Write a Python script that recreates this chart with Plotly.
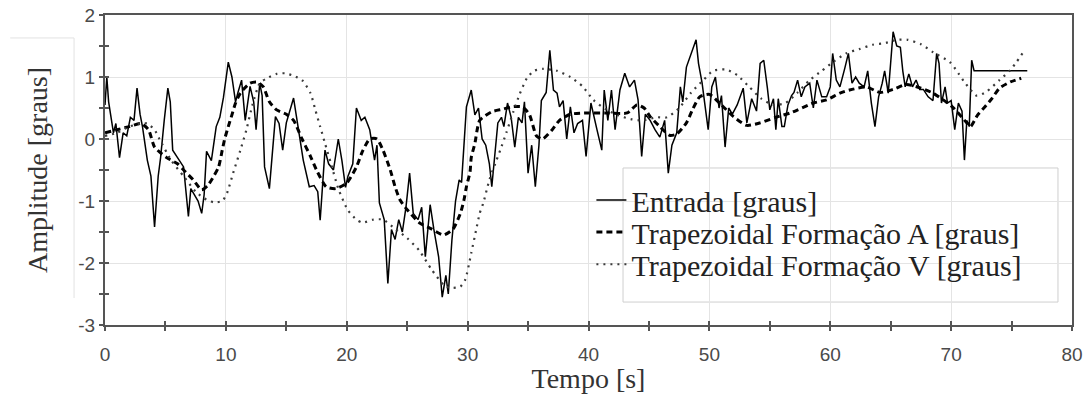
import plotly.graph_objects as go

# ---------------- data ----------------
entrada_t = [0.0, 0.15, 0.3, 0.5, 0.7, 0.9, 1.2, 1.5, 1.8, 2.1, 2.4, 2.65, 2.9, 3.1, 3.5, 3.8, 4.1, 4.4, 4.6, 4.9,
             5.2, 5.4, 5.6, 6.0, 6.5, 6.9, 7.1, 7.4, 7.7, 8.0, 8.2, 8.4, 8.8, 9.2, 9.5, 9.8, 10.2, 10.5, 10.8, 11.0,
             11.3, 11.6, 12.0, 12.3, 12.5, 12.8, 13.0, 13.2, 13.6, 14.1, 14.4, 14.7, 15.0, 15.6, 15.9, 16.4, 16.9,
             17.3, 17.6, 17.8, 18.2, 18.5, 18.9, 19.3, 19.6, 19.9, 20.1, 20.5, 20.8, 21.2, 21.5, 21.9, 22.3, 22.5,
             22.7, 23.1, 23.4, 23.7, 24.0, 24.3, 24.6, 24.9, 25.2, 25.5, 25.9, 26.2, 26.5, 26.9, 27.2, 27.6, 27.9,
             28.2, 28.4, 28.7, 29.0, 29.3, 29.5, 29.7, 29.9, 30.3, 30.6, 30.9, 31.2, 31.5, 31.8, 32.0, 32.3, 32.5,
             32.8, 33.0, 33.3, 33.6, 33.9, 34.2, 34.5, 34.7, 35.0, 35.3, 35.6, 35.9, 36.1, 36.5, 36.8, 37.1, 37.4,
             37.6, 37.9, 38.2, 38.5, 38.8, 39.1, 39.5, 39.8, 40.2, 40.7, 41.1, 41.3, 41.6, 41.9, 42.2, 42.6, 43.0,
             43.4, 43.8, 44.1, 44.4, 44.7, 45.1, 45.5, 45.9, 46.3, 46.6, 46.9, 47.3, 47.6, 47.8, 48.1, 48.5, 48.9,
             49.1, 49.4, 49.6, 49.9, 50.2, 50.5, 50.8, 51.0, 51.3, 51.6, 51.9, 52.3, 52.8, 53.1, 53.5, 53.9, 54.2,
             54.5, 54.8, 55.0, 55.3, 55.5, 55.7, 56.0, 56.2, 56.5, 56.8, 57.0, 57.3, 57.6, 57.9, 58.3, 58.6, 58.9,
             59.3, 59.7, 60.0, 60.2, 60.5, 60.8, 61.2, 61.5, 61.8, 62.1, 62.4, 62.8, 63.1, 63.4, 63.7, 64.0, 64.3,
             64.5, 64.8, 65.2, 65.5, 65.8, 66.0, 66.2, 66.5, 66.8, 67.1, 67.4, 67.7, 68.1, 68.5, 68.8, 69.0, 69.2,
             69.5, 69.7, 70.0, 70.3, 70.6, 70.9, 71.1, 71.3, 71.5, 71.7, 71.9, 76.3]
entrada_v = [0.55, 1.0, 0.6, 0.35, 0.1, 0.25, -0.3, 0.1, 0.05, 0.35, 0.3, 0.82, 0.4, 0.2, -0.34, -0.6, -1.42, -0.6, -0.3, 0.3,
             0.82, 0.6, -0.18, -0.3, -0.45, -1.25, -0.8, -0.9, -1.0, -1.2, -0.9, -0.2, -0.35, 0.2, 0.35, 0.67, 1.24, 1.0, 0.6, 0.75,
             0.95, 0.3, 0.85, 0.6, 0.15, 0.9, 0.7, -0.45, -0.8, 0.36, 0.25, -0.18, 0.26, 0.66, 0.26, -0.34, -0.77,
             -0.75, -0.85, -1.31, -0.18, -0.4, -0.5, 0.0, -0.35, -0.78, -0.6, -0.4, 0.5, 0.3, 0.35, 0.15, -0.34, -0.1,
             -1.03, -1.3, -2.33, -1.46, -1.62, -1.3, -1.5, -1.1, -0.55, -1.2, -1.3, -1.1, -1.9, -1.06, -1.45, -1.9, -2.55,
             -2.2, -2.5, -1.63, -1.0, -0.66, -0.7, 0.0, 0.52, 0.79, 0.39, 0.5, 0.0, -0.1, -0.4, -0.77, -0.2, 0.26,
             0.35, 0.2, 0.58, 0.35, -0.13, 0.35, 0.26, 0.6, -0.55, -0.1, -0.77, -0.1, 0.62, 0.75, 1.43, 0.79, 0.74,
             0.52, 0.62, 0.0, 0.52, 0.1, 0.25, 0.3, -0.28, 0.58, 0.15, -0.18, 0.79, 0.3, 0.79, 0.15, 0.79, 1.06,
             0.84, 0.95, 0.63, -0.28, 0.4, 0.3, 0.15, 0.03, 0.3, -0.55, -0.1, 0.1, 0.84, 0.6, 1.16, 1.38, 1.6,
             1.22, 0.9, 0.6, 0.15, 0.84, 1.0, 0.5, 0.7, -0.13, 0.5, 0.4, 0.55, 0.82, 0.26, 0.65, 0.45, 1.22,
             1.27, 0.82, 0.47, 0.65, 0.15, 0.65, 0.2, 0.2, 0.55, 0.7, 0.75, 0.95, 0.68, 0.84, 0.9, 0.5, 0.95,
             0.68, 0.68, 0.84, 1.38, 0.95, 0.84, 1.14, 1.38, 0.9, 1.0, 0.9, 0.84, 1.1, 0.58, 0.2, 0.68, 0.9,
             1.1, 0.74, 1.73, 1.5, 1.48, 1.1, 0.84, 1.05, 0.84, 0.95, 0.8, 0.8, 0.68, 0.62, 1.38, 1.22, 0.58,
             0.84, 0.58, 0.62, 0.15, 0.58, 0.45, -0.34, 0.3, 0.2, 1.27, 1.1, 1.1]

form_a_t = [0, 1, 2, 3, 3.6, 4.1, 5.1, 6.0, 6.5, 7.3, 8.0, 8.5, 9.0, 9.4, 9.7, 9.9, 10.2, 10.5, 10.8, 11.2, 12.0,
            12.6, 13.1, 13.6, 14.2, 15.0, 15.6, 16.3, 17.0, 17.5, 18.3, 19.1, 20.0, 20.8, 21.3, 21.9, 22.5, 23.0,
            23.6, 24.0, 24.4, 25.0, 26.0, 27.0, 28.0, 28.8, 29.4, 29.7, 29.9, 30.2, 30.3, 30.6, 31.0, 32.0, 32.9,
            33.7, 34.5, 35.1, 35.7, 36.2, 37.0, 37.6, 38.5, 40.0, 41.5, 43.2, 44.0, 44.6, 45.1, 45.9, 46.7, 47.3,
            48.1, 48.6, 49.2, 50.0, 51.0, 52.0, 53.1, 54.2, 55.5, 56.7, 58.6, 59.7, 60.8, 61.6, 63.0, 64.1, 65.2,
            66.3, 67.5, 68.5, 70.1, 71.3, 71.6, 72.2, 72.8, 73.4, 74.0, 74.9, 75.8]
form_a_v = [0.1, 0.15, 0.2, 0.25, 0.15, -0.13, -0.3, -0.4, -0.5, -0.66, -0.82, -0.75, -0.6, -0.45, -0.18, 0.0, 0.2,
            0.39, 0.58, 0.74, 0.9, 0.92, 0.84, 0.6, 0.47, 0.4, 0.3, 0.0, -0.28, -0.5, -0.77, -0.8, -0.71, -0.45,
            -0.2, 0.0, 0.0, -0.18, -0.5, -0.77, -0.98, -1.14, -1.35, -1.45, -1.55, -1.45, -1.2, -0.98, -0.77, -0.53,
            -0.3, -0.07, 0.3, 0.44, 0.48, 0.52, 0.52, 0.4, 0.05, 0.0, 0.15, 0.3, 0.4, 0.42, 0.42, 0.42, 0.55, 0.5,
            0.36, 0.2, 0.06, 0.08, 0.26, 0.47, 0.68, 0.72, 0.55, 0.36, 0.22, 0.26, 0.35, 0.42, 0.58, 0.63, 0.74,
            0.79, 0.84, 0.75, 0.8, 0.88, 0.82, 0.74, 0.52, 0.26, 0.2, 0.39, 0.52, 0.66, 0.82, 0.92, 0.98]

form_v_t = [0, 1, 2, 3, 3.5, 4.1, 4.5, 5.5, 6.5, 7.5, 8.4, 9.0, 9.7, 10.1, 10.6, 11.2, 11.7, 12.2, 12.8, 13.4, 14.2,
            14.9, 15.6, 16.3, 17.0, 17.4, 17.8, 18.2, 18.7, 19.3, 20.1, 20.8, 21.3, 22.2, 23.0, 24.0, 25.0, 26.0,
            27.0, 28.0, 28.5, 29.4, 29.8, 30.3, 30.7, 31.0, 31.3, 31.8, 32.3, 32.7, 33.2, 33.8, 34.3, 34.9, 35.5,
            36.2, 37.4, 38.5, 39.5, 40.4, 41.5, 42.5, 43.5, 44.5, 45.6, 46.5, 47.5, 48.5, 49.5, 50.3, 51.4, 52.3,
            53.3, 54.3, 55.3, 56.3, 57.3, 58.3, 59.3, 60.3, 61.3, 62.4, 63.5, 64.6, 65.5, 66.4, 67.5, 68.5, 69.9,
            70.6, 71.1, 72.1, 72.9, 74.0, 74.9, 75.4, 75.9]
form_v_v = [0.05, 0.1, 0.2, 0.25, 0.25, 0.15, 0.0, -0.35, -0.6, -0.85, -0.98, -1.02, -1.0, -0.87, -0.55, -0.18, 0.15,
            0.55, 0.9, 0.98, 1.05, 1.06, 1.02, 0.95, 0.74, 0.47, 0.2, -0.07, -0.4, -0.8, -1.15, -1.3, -1.35, -1.3,
            -1.3, -1.45, -1.6, -1.8, -2.1, -2.35, -2.4, -2.38, -2.27, -1.84, -1.47, -1.2, -1.03, -0.66, -0.39,
            -0.18, 0.1, 0.45, 0.72, 0.98, 1.1, 1.13, 1.1, 1.0, 0.85, 0.63, 0.47, 0.38, 0.32, 0.3, 0.35, 0.35, 0.5,
            0.75, 0.95, 1.1, 1.12, 1.03, 0.84, 0.65, 0.55, 0.58, 0.75, 0.95, 1.1, 1.25, 1.38, 1.45, 1.52, 1.55,
            1.6, 1.6, 1.53, 1.4, 1.24, 1.06, 0.92, 0.7, 0.76, 0.95, 1.11, 1.24, 1.38]

names = ["Entrada [graus]", "Trapezoidal Formação A [graus]", "Trapezoidal Formação V [graus]"]
x_ticks = [0, 10, 20, 30, 40, 50, 60, 70, 80]
y_ticks = [-3, -2, -1, 0, 1, 2]

# ---------------- figure ----------------
SERIF = "Liberation Serif, Times New Roman, serif"
SANS = "Liberation Sans, Arial, sans-serif"

fig = go.Figure()
fig.add_trace(go.Scatter(x=entrada_t, y=entrada_v, mode="lines", name=names[0], legend="legend",
                         line=dict(color="#000000", width=1.5)))
fig.add_trace(go.Scatter(x=form_a_t, y=form_a_v, mode="lines", name=names[1], legend="legend2",
                         line=dict(color="#000000", width=3, dash="6px,4px", shape="spline", smoothing=0.6)))
fig.add_trace(go.Scatter(x=form_v_t, y=form_v_v, mode="lines", name=names[2], legend="legend3",
                         xaxis="x2", yaxis="y2",
                         line=dict(color="#3a3a3a", width=2.2, dash="2px,5px", shape="spline", smoothing=0.6)))

axis_common = dict(showline=True, linecolor="#555555", linewidth=2, mirror=True, automargin=False,
                   showgrid=True, gridcolor="#e4e4e4", gridwidth=1, zeroline=False,
                   ticks="outside", ticklen=4, tickwidth=2, tickcolor="#555555",
                   ticklabeloverflow="allow",
                   tickfont=dict(family=SANS, size=19, color="#4a4a4a"))

legend_common = dict(xanchor="left", yanchor="middle", bgcolor="rgba(255,255,255,0)", borderwidth=0,
                     font=dict(family=SERIF, size=30, color="#222222"))

fig.update_layout(
    width=1085, height=394,
    margin=dict(l=105, r=13, t=15, b=69, autoexpand=False),
    paper_bgcolor="white", plot_bgcolor="white",
    xaxis=dict(range=[0, 80], tickvals=x_ticks, ticktext=[str(v) for v in x_ticks],
               minor=dict(dtick=5, ticks="outside", ticklen=4, tickwidth=2, tickcolor="#555555", showgrid=False),
               ticklabelstandoff=7,
               title=dict(text="Tempo [s]", font=dict(family=SERIF, size=28, color="#333333"), standoff=1),
               **axis_common),
    yaxis=dict(range=[-3, 2], tickvals=y_ticks, ticktext=[str(v) for v in y_ticks],
               minor=dict(dtick=0.5, ticks="outside", ticklen=4, tickwidth=2, tickcolor="#555555", showgrid=False),
               title=dict(text="Amplitude [graus]", font=dict(family=SERIF, size=28, color="#333333"), standoff=22),
               **axis_common),
    xaxis2=dict(overlaying="x", matches="x", anchor="y2", showgrid=False, showline=False, zeroline=False,
                automargin=False, ticks="inside", ticklen=4, tickwidth=2, tickcolor="#555555", tickvals=x_ticks,
                showticklabels=False,
                minor=dict(dtick=5, ticks="inside", ticklen=4, tickwidth=2, tickcolor="#555555")),
    yaxis2=dict(overlaying="y", matches="y", anchor="x2", side="left", showgrid=False, showline=False,
                zeroline=False, automargin=False, ticks="inside", ticklen=4, tickwidth=2, tickcolor="#555555",
                tickvals=y_ticks, showticklabels=False,
                minor=dict(dtick=0.5, ticks="inside", ticklen=4, tickwidth=2, tickcolor="#555555")),
    showlegend=True,
    legend=dict(x=0.503, y=0.403, **legend_common),
    legend2=dict(x=0.503, y=0.300, **legend_common),
    legend3=dict(x=0.503, y=0.196, **legend_common),
    shapes=[
        dict(type="rect", xref="paper", yref="paper", x0=0.5357, x1=0.9855, y0=0.074, y1=0.5065,
             line=dict(color="#cfcfcf", width=1), fillcolor="white", layer="below"),
        dict(type="line", xref="paper", yref="paper", x0=-0.098, x1=-0.032, y0=0.926, y1=0.926,
             line=dict(color="#e2e2e2", width=1)),
        dict(type="line", xref="paper", yref="paper", x0=-0.032, x1=-0.032, y0=0.926, y1=0.087,
             line=dict(color="#e2e2e2", width=1)),
    ],
)

# remove the browser's default body margin so the figure sits at the window's top-left corner
fig.write_html("out.html", config={"displayModeBar": False},
               post_script="document.body.style.margin='0';")
